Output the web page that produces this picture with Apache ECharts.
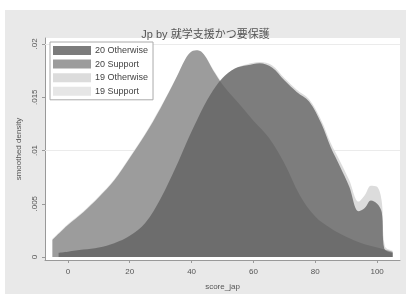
<!DOCTYPE html>
<html>
<head>
<meta charset="utf-8">
<script src="https://cdn.jsdelivr.net/npm/echarts@6/dist/echarts.min.js"></script>
<style>
html, body { margin: 0; padding: 0; background: #fff; }
#chart { width: 411px; height: 298px; }
</style>
</head>
<body>
<div id="chart"></div>
<script>
var dom = document.getElementById("chart");
var myChart = echarts.init(dom);

// kernel density estimates
var supX20 = [-5, 0, 5, 10, 15, 20, 25, 30, 35, 38, 40, 42, 44, 47, 50, 55, 60, 65, 70, 75, 80, 85, 90, 95, 100, 105];
var supY20 = [0.0016, 0.003, 0.0042, 0.0056, 0.0072, 0.0093, 0.0115, 0.014, 0.0168, 0.0186, 0.0193, 0.0194, 0.019, 0.0175, 0.0162, 0.0145, 0.0128, 0.0112, 0.0088, 0.0058, 0.0038, 0.0027, 0.0019, 0.0013, 0.0009, 0.0005];
var othX20 = [-3, 0, 5, 10, 15, 20, 25, 30, 35, 38, 42, 46, 50, 54, 58, 62, 66, 70, 74, 78, 82, 85, 88, 91, 94, 96, 98, 100, 101.5, 102.3, 105];
var othY20 = [0.0004, 0.0005, 0.0007, 0.0009, 0.0013, 0.002, 0.0032, 0.0055, 0.0085, 0.0105, 0.013, 0.0152, 0.0168, 0.0177, 0.018, 0.0182, 0.0178, 0.0166, 0.0155, 0.0146, 0.0125, 0.0103, 0.0085, 0.0066, 0.0043, 0.0046, 0.0053, 0.005, 0.0042, 0.0008, 0.0004];
var supX19 = [-5, 0, 5, 10, 15, 20, 25, 30, 35, 38, 40, 42, 44, 47, 50, 55, 60, 65, 70, 75, 80, 85, 90, 95, 100, 105];
var supY19 = [0.0017, 0.0031, 0.0043, 0.0057, 0.0073, 0.0094, 0.0116, 0.0141, 0.0168, 0.0185, 0.0192, 0.0193, 0.019, 0.0176, 0.0163, 0.0146, 0.0129, 0.0113, 0.009, 0.006, 0.004, 0.0028, 0.002, 0.0014, 0.001, 0.0006];
var othX19 = [-3, 0, 5, 10, 15, 20, 25, 30, 35, 38, 42, 46, 50, 54, 58, 62, 66, 70, 74, 78, 82, 85, 88, 91, 94, 96, 98, 100, 101.5, 102.5, 105];
var othY19 = [0.0005, 0.0006, 0.0008, 0.001, 0.0014, 0.0021, 0.0033, 0.0056, 0.0085, 0.0104, 0.0129, 0.0151, 0.0167, 0.0177, 0.0181, 0.0183, 0.018, 0.0168, 0.0157, 0.0148, 0.0128, 0.0107, 0.009, 0.0072, 0.0052, 0.0058, 0.0067, 0.0066, 0.0052, 0.001, 0.0005];
var xTicks = [0, 20, 40, 60, 80, 100];
var yTicks = [0, 0.005, 0.01, 0.015, 0.02];
var names = ['20 Otherwise', '20 Support', '19 Otherwise', '19 Support'];

function pairs(xs, ys) {
    return xs.map(function (x, i) { return [x, ys[i]]; });
}
function area(name, xs, ys, color, z) {
    return {
        name: name,
        type: 'line',
        smooth: 0.35,
        showSymbol: false,
        silent: true,
        z: z,
        lineStyle: { width: 0 },
        itemStyle: { color: color },
        areaStyle: { color: color, opacity: 1 },
        data: pairs(xs, ys)
    };
}

var option = {
    backgroundColor: '#fff',
    animation: false,
    textStyle: { fontFamily: '"Liberation Sans", "Noto Sans CJK JP", sans-serif' },
    graphic: [{
        type: 'rect',
        z: -10,
        shape: { x: 5, y: 10, width: 401, height: 284 },
        style: { fill: '#e9e9e9' }
    }],
    title: {
        text: 'Jp by 就学支援かつ要保護',
        left: 'center',
        top: 24,
        textStyle: { fontSize: 11, fontWeight: 'normal', color: '#555', fontFamily: '"Liberation Sans", "Noto Sans CJK JP", sans-serif' }
    },
    legend: {
        orient: 'vertical',
        left: 50,
        top: 42,
        padding: [4, 5, 4, 3],
        itemWidth: 38,
        itemHeight: 9,
        itemGap: 4.6,
        backgroundColor: '#fff',
        borderColor: '#aaa',
        borderWidth: 1,
        selectedMode: false,
        textStyle: { fontSize: 9, color: '#444', padding: [0, 0, 0, -1] },
        data: [
            { name: names[0], icon: 'rect', itemStyle: { color: '#7b7b7b', opacity: 1 } },
            { name: names[1], icon: 'rect', itemStyle: { color: '#9c9c9c', opacity: 1 } },
            { name: names[2], icon: 'rect', itemStyle: { color: '#dcdcdc', opacity: 1 } },
            { name: names[3], icon: 'rect', itemStyle: { color: '#e6e6e6', opacity: 1 } }
        ]
    },
    grid: {
        left: 45, right: 11, top: 38, bottom: 38,
        show: true, backgroundColor: '#fff', borderWidth: 0
    },
    xAxis: {
        type: 'value',
        min: -7.4,
        max: 107.4,
        name: 'score_jap',
        nameLocation: 'middle',
        nameGap: 23,
        nameTextStyle: { fontSize: 8, color: '#555' },
        axisLine: { onZero: false, lineStyle: { color: '#999' } },
        axisTick: { customValues: xTicks, length: 3, lineStyle: { color: '#999' } },
        axisLabel: { customValues: xTicks, fontSize: 8, color: '#555', margin: 8 },
        splitLine: { show: false }
    },
    yAxis: {
        type: 'value',
        min: -0.00028,
        max: 0.02056,
        name: 'smoothed density',
        nameLocation: 'middle',
        nameGap: 21,
        nameTextStyle: { fontSize: 8, color: '#555' },
        axisLine: { show: true, onZero: false, lineStyle: { color: '#999' } },
        axisTick: { show: true, customValues: yTicks, length: 3, lineStyle: { color: '#999' } },
        axisLabel: {
            customValues: yTicks,
            rotate: 90,
            fontSize: 8,
            color: '#555',
            margin: 6,
            formatter: function (v) {
                if (v === 0) return '0';
                return String(+v.toFixed(3)).replace(/^0/, '');
            }
        },
        splitLine: { show: false }
    },
    series: [
        {
            type: 'line',
            silent: true,
            showSymbol: false,
            z: 1,
            lineStyle: { width: 0 },
            data: [],
            markLine: {
                silent: true,
                z: 1,
                symbol: 'none',
                animation: false,
                label: { show: false },
                lineStyle: { color: '#ebebeb', type: 'solid', width: 1 },
                data: yTicks.slice(1).map(function (v) { return { yAxis: v }; })
            }
        },
        area(names[3], supX19, supY19, '#e6e6e6', 2),
        area(names[2], othX19, othY19, '#dcdcdc', 3),
        area(names[1], supX20, supY20, '#9c9c9c', 4),
        area(names[0], othX20, othY20, 'rgba(95,95,95,0.76)', 5)
    ]
};

myChart.setOption(option, true);
</script>
</body>
</html>
